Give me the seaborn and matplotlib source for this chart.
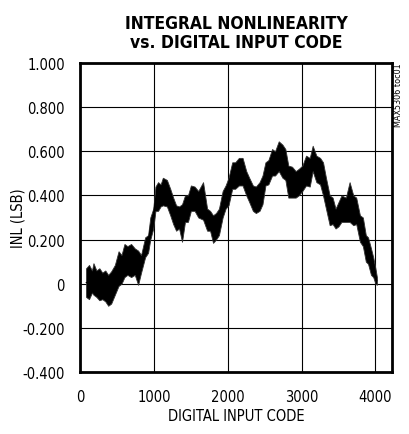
import pandas as pd
import seaborn as sns
import matplotlib
matplotlib.use('Agg')
import matplotlib.pyplot as plt

# INL band: code, lower edge, upper edge (LSB)
codes = [80, 120, 160, 180, 220, 260, 300, 340, 380, 420, 470, 520, 560, 600,
         640, 690, 740, 785, 825, 880, 920, 950, 990, 1020, 1055, 1090, 1120,
         1175, 1220, 1260, 1300, 1340, 1380, 1420, 1460, 1500, 1550, 1600, 1665,
         1720, 1760, 1800, 1840, 1880, 1930, 1970, 2010, 2060, 2100, 2150, 2200,
         2250, 2290, 2340, 2380, 2430, 2470, 2510, 2550, 2600, 2640, 2690, 2740,
         2780, 2820, 2870, 2920, 2960, 3010, 3060, 3110, 3150, 3200, 3250, 3290,
         3330, 3380, 3420, 3460, 3500, 3540, 3600, 3650, 3700, 3740, 3790, 3830,
         3870, 3900, 3940, 3970, 4000, 4020]
inl_low = [-0.06, -0.07, -0.04, -0.05, -0.06, -0.075, -0.07, -0.08, -0.10, -0.09,
           -0.05, -0.01, 0.0, 0.03, 0.04, 0.03, 0.04, -0.005, 0.05, 0.12, 0.14,
           0.20, 0.25, 0.33, 0.33, 0.35, 0.355, 0.35, 0.31, 0.27, 0.24, 0.25,
           0.19, 0.28, 0.28, 0.33, 0.33, 0.30, 0.29, 0.24, 0.24, 0.185, 0.20,
           0.22, 0.30, 0.34, 0.355, 0.43, 0.43, 0.445, 0.445, 0.40, 0.37, 0.33,
           0.32, 0.33, 0.36, 0.445, 0.45, 0.49, 0.49, 0.51, 0.48, 0.47, 0.39,
           0.39, 0.39, 0.40, 0.42, 0.445, 0.44, 0.51, 0.46, 0.45, 0.40, 0.34,
           0.265, 0.27, 0.25, 0.26, 0.28, 0.28, 0.28, 0.265, 0.27, 0.19, 0.17,
           0.10, 0.09, 0.04, 0.03, 0.0, -0.005]
inl_high = [0.07, 0.085, 0.06, 0.093, 0.06, 0.07, 0.05, 0.06, 0.04, 0.056,
            0.085, 0.147, 0.13, 0.18, 0.17, 0.18, 0.16, 0.15, 0.13, 0.21, 0.22,
            0.30, 0.34, 0.44, 0.46, 0.45, 0.48, 0.47, 0.43, 0.39, 0.355, 0.35,
            0.36, 0.40, 0.40, 0.445, 0.44, 0.42, 0.46, 0.34, 0.33, 0.31, 0.32,
            0.34, 0.42, 0.445, 0.48, 0.55, 0.55, 0.57, 0.57, 0.51, 0.48, 0.445,
            0.44, 0.46, 0.49, 0.55, 0.56, 0.61, 0.60, 0.645, 0.63, 0.61, 0.535,
            0.53, 0.51, 0.52, 0.535, 0.58, 0.57, 0.625, 0.58, 0.57, 0.55, 0.48,
            0.40, 0.39, 0.34, 0.37, 0.40, 0.39, 0.46, 0.40, 0.39, 0.31, 0.30,
            0.22, 0.21, 0.16, 0.12, 0.07, 0.03]

x_ticks = [0, 1000, 2000, 3000, 4000]
y_ticks = [-0.4, -0.2, 0.0, 0.2, 0.4, 0.6, 0.8, 1.0]
y_labels = ['-0.400', '-0.200', '0', '0.200', '0.400', '0.600', '0.800', '1.000']


def main():
    sns.set_style('white')
    plt.rcParams['font.family'] = ['DejaVu Sans']
    plt.rcParams['font.stretch'] = 'condensed'
    plt.rcParams['text.color'] = 'black'
    plt.rcParams['axes.labelcolor'] = 'black'

    # long form: each code has its low and high edge, band = min..max
    df = pd.DataFrame({'code': codes + codes, 'inl': inl_low + inl_high})

    fig = plt.figure(figsize=(4.09, 4.35), dpi=100)
    ax = fig.add_axes([0.196, 0.1425, 0.7625, 0.7105])

    sns.lineplot(data=df, x='code', y='inl', errorbar=('pi', 100), color='black',
                 lw=0.8, err_kws={'alpha': 1.0, 'edgecolor': '#333333', 'lw': 0.6},
                 ax=ax)

    ax.set_xlim(0, 4225)
    ax.set_ylim(-0.4, 1.0)
    ax.set_xticks(x_ticks)
    ax.set_xticklabels([str(t) for t in x_ticks])
    ax.set_yticks(y_ticks)
    ax.set_yticklabels(y_labels)
    ax.tick_params(length=0, labelsize=10.5, colors='black')
    ax.tick_params(axis='y', pad=11)
    ax.tick_params(axis='x', pad=12)
    ax.grid(True, color='black', lw=0.8)
    for s in ax.spines.values():
        s.set_visible(True)
        s.set_color('black')
        s.set_linewidth(2)

    ax.set_xlabel('DIGITAL INPUT CODE', fontsize=10.5, labelpad=3)
    ax.set_ylabel('INL (LSB)', fontsize=10.5, labelpad=-2)

    fig.text(0.577, 0.965, 'INTEGRAL NONLINEARITY\nvs. DIGITAL INPUT CODE',
             ha='center', va='top', fontsize=12.5, fontweight='heavy',
             linespacing=1.05)
    fig.text(0.975, 0.855, 'MAX5306 toc01', rotation=90, ha='center', va='top',
             fontsize=6.5)

    fig.savefig('out.png', dpi=100)


if __name__ == '__main__':
    main()
